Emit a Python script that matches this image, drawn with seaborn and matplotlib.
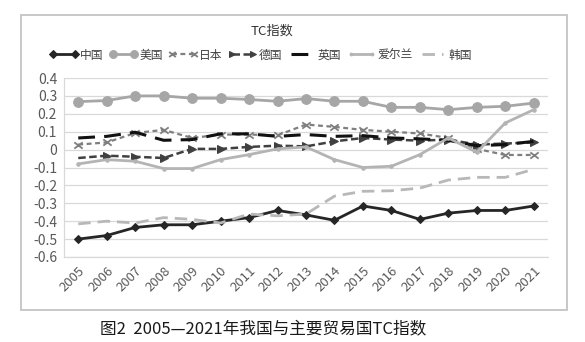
import numpy as np
import pandas as pd
import matplotlib
matplotlib.use("Agg")
import matplotlib.pyplot as plt
from matplotlib.path import Path
from matplotlib.patches import Rectangle
import seaborn as sns

years = list(range(2005, 2022))

china   = [-0.50, -0.48, -0.435, -0.42, -0.42, -0.40, -0.38, -0.34, -0.365, -0.395, -0.315, -0.34, -0.39, -0.355, -0.34, -0.34, -0.315]
usa     = [0.268, 0.274, 0.300, 0.300, 0.287, 0.287, 0.280, 0.270, 0.285, 0.270, 0.270, 0.236, 0.236, 0.223, 0.236, 0.242, 0.260]
japan   = [0.028, 0.040, 0.093, 0.110, 0.065, 0.084, 0.084, 0.080, 0.140, 0.127, 0.110, 0.100, 0.090, 0.065, 0.004, -0.030, -0.030]
germany = [-0.047, -0.034, -0.040, -0.047, 0.004, 0.004, 0.015, 0.022, 0.018, 0.046, 0.065, 0.056, 0.050, 0.056, 0.028, 0.034, 0.040]
uk      = [0.065, 0.074, 0.097, 0.052, 0.056, 0.088, 0.088, 0.074, 0.084, 0.074, 0.078, 0.065, 0.060, 0.052, 0.022, 0.028, 0.046]
ireland = [-0.080, -0.056, -0.065, -0.106, -0.106, -0.056, -0.028, 0.004, 0.015, -0.056, -0.100, -0.093, -0.028, 0.065, -0.015, 0.149, 0.223]
korea   = [-0.415, -0.400, -0.410, -0.380, -0.390, -0.410, -0.360, -0.370, -0.360, -0.260, -0.233, -0.230, -0.215, -0.170, -0.155, -0.155, -0.110]

names = ["中国", "美国", "日本", "德国", "英国", "爱尔兰", "韩国"]
yticks = [0.4, 0.3, 0.2, 0.1, 0, -0.1, -0.2, -0.3, -0.4, -0.5, -0.6]
ytick_labels = ["0.4", "0.3", "0.2", "0.1", "0", "-0.1", "-0.2", "-0.3", "-0.4", "-0.5", "-0.6"]

sns.set_theme(style="white")
plt.rcParams["font.family"] = ["Noto Sans CJK SC", "DejaVu Sans"]
plt.rcParams["axes.unicode_minus"] = False

# double chevron "><" marker for the arrowed dashed series
bowtie = Path([(-1, 0.75), (0, 0), (-1, -0.75), (1, 0.75), (0, 0), (1, -0.75)],
              [Path.MOVETO, Path.LINETO, Path.LINETO, Path.MOVETO, Path.LINETO, Path.LINETO])

fig = plt.figure(figsize=(5.85, 3.42), dpi=100)
ax = fig.add_axes([64 / 585, 1 - 257 / 342, (548 - 64) / 585, (257 - 78) / 342])

x = np.array(years)
series = [
    (names[0], china,   dict(color="#262626", lw=2.0, marker="D", ms=4.5, mfc="#262626", mec="#262626")),
    (names[1], usa,     dict(color="#a6a6a6", lw=2.0, marker="o", ms=7, mfc="#a6a6a6", mec="#a6a6a6")),
    (names[2], japan,   dict(color="#7f7f7f", lw=1.6, linestyle=(0, (2.2, 1.6)), marker=bowtie, ms=6,
                             mfc="none", mec="#7f7f7f", mew=1.3)),
    (names[3], germany, dict(color="#404040", lw=1.8, linestyle=(0, (3, 1.4)), marker=">", ms=5.5,
                             mfc="#404040", mec="#404040", markevery=slice(1, None))),
    (names[4], uk,      dict(color="#111111", lw=2.2, linestyle=(0, (5.5, 3)))),
    (names[5], ireland, dict(color="#b4b4b4", lw=2.0, marker="o", ms=2.5, mfc="#b4b4b4", mec="#b4b4b4")),
    (names[6], korea,   dict(color="#b8b8b8", lw=2.0, linestyle=(0, (4.5, 2.5)))),
]

for name, vals, kw in series:
    df = pd.DataFrame({"year": x, "tc": vals})
    sns.lineplot(data=df, x="year", y="tc", ax=ax, label=name, **kw)

ax.set_xlim(2004.5, 2021.5)
ax.set_ylim(-0.6, 0.4)
ax.set_yticks(yticks)
ax.set_yticklabels(ytick_labels)
ax.set_xticks(years)
ax.set_xticklabels([str(y) for y in years], rotation=45, ha="right", va="top",
                   rotation_mode="anchor")
ax.tick_params(axis="y", labelsize=10, colors="#595959", length=0, pad=5)
ax.tick_params(axis="x", labelsize=9.5, colors="#595959", length=0, pad=5)
ax.set_xlabel("")
ax.set_ylabel("")
ax.grid(axis="y", color="#d9d9d9", lw=0.9)
ax.grid(axis="x", visible=False)
for s in ["top", "right"]:
    ax.spines[s].set_visible(False)
for s in ["left", "bottom"]:
    ax.spines[s].set_color("#d9d9d9")
    ax.spines[s].set_linewidth(0.9)
ax.set_facecolor("white")

handles, labels = ax.get_legend_handles_labels()
ax.get_legend().remove()
fig.legend(handles, labels, loc="center", bbox_to_anchor=(261 / 585, 1 - 55 / 342),
           ncol=7, frameon=False, fontsize=8.5, numpoints=2, handlelength=2.4,
           handletextpad=0.15, columnspacing=0.5, labelcolor="#404040", markerscale=0.8)

fig.text(272 / 585, 1 - 31 / 342, "TC指数", ha="center", va="center",
         fontsize=9.5, color="#333333")

# chart-area frame
fig.patches.append(Rectangle((21 / 585, 1 - 310 / 342), (567 - 21) / 585, (310 - 15) / 342,
                             transform=fig.transFigure, fill=False,
                             edgecolor="#c4c4c4", lw=1.3))

fig.text(263 / 585, 1 - 329 / 342, "图2  2005—2021年我国与主要贸易国TC指数",
         ha="center", va="center", fontsize=12, color="#1a1a1a")

fig.savefig("out.png", dpi=100, facecolor="white")
